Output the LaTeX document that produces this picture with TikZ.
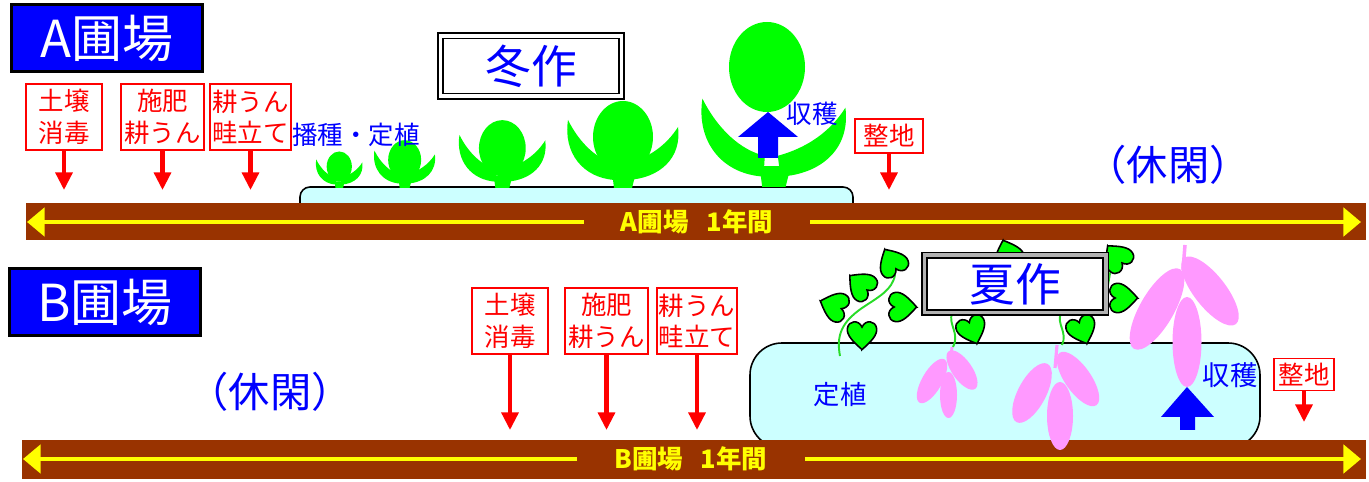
\documentclass[tikz,border=0pt]{standalone}
\usepackage{fontspec}
\setmainfont{Noto Sans CJK JP}
\usepackage{tikz}
\usetikzlibrary{arrows.meta}
\definecolor{titleblue}{RGB}{0,0,255}
\definecolor{fieldbrown}{RGB}{153,51,0}
\definecolor{lineyellow}{RGB}{255,255,0}
\definecolor{leafgreen}{RGB}{0,255,0}
\definecolor{vinegreen}{RGB}{40,220,40}
\definecolor{bedcyan}{RGB}{204,255,255}
\definecolor{potatopink}{RGB}{255,153,255}

% winter crop leaves and stem: x, base y, scale
\newcommand{\winterleaves}[3]{%
  \begin{scope}[shift={(#1,#2)}, scale=#3]
    \fill[leafgreen] (-52,-68) .. controls (-57,-35) and (-37,-10) .. (-5,-8)
      -- (-4,-24) .. controls (-22,-28) and (-40,-44) .. cycle;
    \fill[leafgreen] (58,-61) .. controls (62,-30) and (40,-10) .. (8,-8)
      -- (6,-24) .. controls (28,-30) and (46,-42) .. cycle;
    \fill[leafgreen] (-8,-16) -- (16,-16) -- (12,0) -- (-6,0) -- cycle;
  \end{scope}}
% winter crop with its head: x, base y, scale
\newcommand{\winterplant}[3]{%
  \winterleaves{#1}{#2}{#3}
  \begin{scope}[shift={(#1,#2)}, scale=#3]
    \fill[leafgreen] (3,-51) ellipse [x radius=30, y radius=36];
  \end{scope}}
% heart leaf of the vine: x, y, angle
\newcommand{\vineleaf}[3]{%
  \begin{scope}[shift={(#1,#2)}, rotate=#3, scale=1.12]
    \filldraw[fill=leafgreen, draw=black, line width=0.9pt]
      (0,13) .. controls (-8,6) and (-14,0) .. (-13,-6)
      .. controls (-12,-13) and (-3,-14) .. (0,-7)
      .. controls (3,-14) and (12,-13) .. (13,-6)
      .. controls (14,0) and (8,6) .. cycle;
  \end{scope}}
% sweet potato: x, y, x radius, y radius, angle
\newcommand{\potato}[5]{%
  \fill[potatopink, rotate around={#5:(#1,#2)}] (#1,#2) ellipse [x radius=#3, y radius=#4];}

\begin{document}
\begin{tikzpicture}[
    x=0.02cm, y=-0.02cm,
    fieldtitle/.style={draw=black, line width=1.7pt, fill=titleblue, text=white,
      minimum width=3.82cm, minimum height=1.34cm, inner sep=0pt,
      font=\fontsize{29}{30}\selectfont},
    workbox/.style={draw=red, line width=1.1pt, fill=white, text=red, align=center,
      inner sep=0pt, minimum height=1.32cm, font=\fontsize{14.5}{18}\selectfont},
    levelbox/.style={workbox, minimum height=0.68cm},
    workarrow/.style={red, line width=2.3pt, -{Triangle[width=9.5pt,length=10pt]}},
    cropbox/.style={draw=black, double=white, line width=0.9pt, double distance=2pt,
      fill=white, text=titleblue, inner sep=0pt,
      font=\fontsize{26}{28}\selectfont},
    bluetext/.style={text=titleblue, inner sep=0pt, font=\fontsize{14.5}{16}\selectfont},
    resttext/.style={text=titleblue, inner sep=0pt, font=\fontsize{23.5}{26}\selectfont},
    yearlabel/.style={text=lineyellow, inner ysep=0pt, inner xsep=0.74cm,
      font=\bfseries\fontsize{14.5}{16}\selectfont},
    yeararrow/.style={draw=lineyellow, line width=2.8pt, -{Triangle[width=16pt,length=10pt]}},
    bed/.style={draw=black, line width=0.9pt, fill=bedcyan},
    vine/.style={draw=vinegreen, line width=1.1pt}
  ]
  \useasboundingbox (0,0) rectangle (1369,482);

  % ---------------- A field ----------------
  \node[fieldtitle] (titleA) at (107,38) {A圃場};

  \draw[bed, rounded corners=0.2cm] (300,187) rectangle (853,215);
  \fill[fieldbrown] (26,203) rectangle (1366,240);

  \winterplant{338}{188}{0.42}
  \winterplant{403}{188}{0.55}
  \winterplant{500}{188}{0.78}
  \winterplant{620}{188}{1}
  \winterleaves{770}{187}{1.3}
  \fill[leafgreen] (767,67) ellipse [x radius=38, y radius=45];
  \fill[titleblue] (768,112) -- (798,137) -- (778,137) -- (778,158)
    -- (758,158) -- (758,137) -- (738,137) -- cycle;

  \node[cropbox, minimum width=3.63cm, minimum height=1.21cm] (winter) at (531,66) {冬作};
  \node[bluetext] (sowA) at (356,135) {播種・定植};
  \node[bluetext] (harvA) at (812,114) {収穫};
  \node[resttext] (restA) at (1168,165) {（休閑）};

  \coordinate (tipA) at (0,190);
  \node[workbox, minimum width=1.52cm] (soilA) at (64,117) {土壌\\消毒};
  \node[workbox, minimum width=1.66cm] (fertA) at (162.5,117) {施肥\\耕うん};
  \node[workbox, minimum width=1.62cm] (ridgeA) at (250.5,117) {耕うん\\畦立て};
  \node[levelbox, minimum width=1.36cm] (levelA) at (889,136) {整地};
  \draw[workarrow] (soilA.south) -- (soilA.south |- tipA);
  \draw[workarrow] (fertA.south) -- (fertA.south |- tipA);
  \draw[workarrow] (ridgeA.south) -- (ridgeA.south |- tipA);
  \draw[workarrow] (levelA.south) -- (levelA.south |- tipA);

  \coordinate (startA) at (27,222);
  \coordinate (endA) at (1361,222);
  \node[yearlabel] (yearA) at (697,222) {A圃場\hspace{0.7em}1年間};
  \draw[yeararrow] (yearA.west) -- (startA);
  \draw[yeararrow] (yearA.east) -- (endA);

  % ---------------- B field ----------------
  \node[fieldtitle] (titleB) at (105,302) {B圃場};

  \draw[bed, rounded corners=0.64cm] (750,343) rectangle (1260,448);
  \fill[fieldbrown] (22,440) rectangle (1366,479);

  % vines
  \draw[vine] (840,356) .. controls (836,335) and (842,322) .. (862,308)
    .. controls (880,296) and (892,290) .. (895,275);
  \draw[vine] (953,347) .. controls (960,333) and (948,325) .. (952,313);
  \draw[vine] (1062,345) .. controls (1068,332) and (1056,324) .. (1061,313);
  \draw[vine] (1112,268) .. controls (1108,276) and (1110,283) .. (1106,290);

  % sweet potatoes
  \draw[potatopink, line width=1.6pt] (952,347) -- (950,364);
  \potato{932}{381}{10}{25}{-30}
  \potato{962}{370}{10}{23}{35}
  \potato{948.5}{395}{8.5}{23}{0}
  \draw[potatopink, line width=1.8pt] (1057,345) -- (1055,368);
  \potato{1032}{393}{14}{33}{-28}
  \potato{1078}{379}{13}{32}{35}
  \potato{1060}{416}{13}{34}{0}
  \draw[potatopink, line width=2pt] (1185,245) -- (1183,270);
  \potato{1157}{309}{17}{46}{-30}
  \potato{1210}{291}{16}{42}{38}
  \potato{1187}{342}{14.5}{45}{0}

  % leaves
  \vineleaf{892}{262}{-150}
  \vineleaf{861}{285}{-130}
  \vineleaf{834}{306}{-110}
  \vineleaf{902}{307}{90}
  \vineleaf{862}{335}{0}
  \vineleaf{972}{330}{20}
  \vineleaf{1082}{330}{20}
  \vineleaf{1008}{254}{-160}
  \vineleaf{1117}{257}{-140}
  \vineleaf{1123}{298}{90}

  \node[cropbox, double=gray!60, minimum width=3.63cm, minimum height=1.15cm] (summer) at (1015,284) {夏作};

  \fill[titleblue] (1187,387) -- (1214,417) -- (1195,417) -- (1195,430)
    -- (1180,430) -- (1180,417) -- (1161,417) -- cycle;
  \node[bluetext, font=\fontsize{15}{17}\selectfont] (plantB) at (840,395) {定植};
  \node[bluetext, font=\fontsize{15.5}{17}\selectfont] (harvB) at (1230,375) {収穫};
  \node[resttext] (restB) at (270,392) {（休閑）};

  \coordinate (tipB) at (0,430);
  \coordinate (tipB2) at (0,422);
  \node[workbox, minimum width=1.52cm] (soilB) at (510,321) {土壌\\消毒};
  \node[workbox, minimum width=1.66cm] (fertB) at (606.5,321) {施肥\\耕うん};
  \node[workbox, minimum width=1.6cm] (ridgeB) at (697,321) {耕うん\\畦立て};
  \node[levelbox, minimum width=1.2cm, minimum height=0.64cm] (levelB) at (1304,374.5) {整地};
  \draw[workarrow] (soilB.south) -- (soilB.south |- tipB);
  \draw[workarrow] (fertB.south) -- (fertB.south |- tipB);
  \draw[workarrow] (ridgeB.south) -- (ridgeB.south |- tipB);
  \draw[workarrow] (levelB.south) -- (levelB.south |- tipB2);

  \coordinate (startB) at (23,459);
  \coordinate (endB) at (1361,459);
  \node[yearlabel] (yearB) at (691,459) {B圃場\hspace{0.7em}1年間};
  \draw[yeararrow] (yearB.west) -- (startB);
  \draw[yeararrow] (yearB.east) -- (endB);
\end{tikzpicture}
\end{document}
